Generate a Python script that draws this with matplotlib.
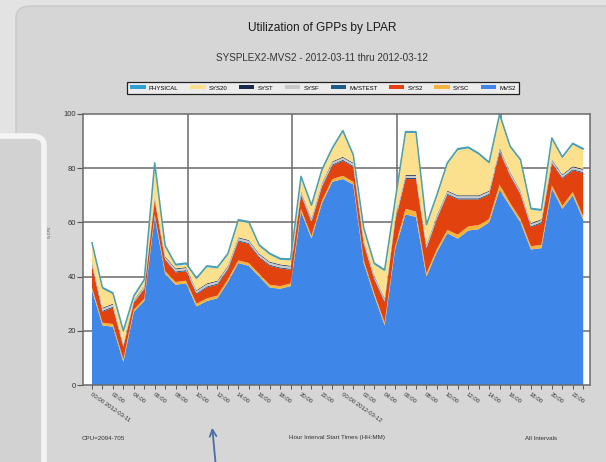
import numpy as np
import matplotlib.pyplot as plt
from matplotlib.patches import FancyBboxPatch, Patch

plt.rcParams['font.family'] = ['Liberation Sans', 'DejaVu Sans']

# hourly samples, 2012-03-11 00:00 .. 2012-03-12 23:00
hours = list(range(48))
tick_labels = ['00:00 2012-03-11', '02:00', '04:00', '06:00', '08:00', '10:00',
               '12:00', '14:00', '16:00', '18:00', '20:00', '22:00',
               '00:00 2012-03-12', '02:00', '04:00', '06:00', '08:00', '10:00',
               '12:00', '14:00', '16:00', '18:00', '20:00', '22:00']

# utilisation per LPAR (stack order bottom -> top)
mvs2 = [35, 22, 21.5, 8.5, 27, 31, 62, 41, 37, 37.5, 29, 31,
        32, 38, 45, 44, 40, 36, 35.5, 36.5, 64, 54, 67, 75,
        76, 74, 45, 33, 22, 50, 63, 62, 40, 49, 56, 54,
        57, 57.5, 60, 72, 66, 60, 50, 50.5, 72.5, 65, 70, 61]
sysc = [1, 1, 1, 1, 0.8, 0.8, 1, 1, 1, 1, 1, 1,
        1, 1, 1, 1, 1, 1, 1, 1, 1, 1, 1, 1,
        1.2, 1, 1, 1, 1, 1, 2, 2, 1.2, 1.2, 1.2, 1.5,
        1.5, 1.5, 1.2, 2, 1.2, 1.2, 1.2, 1.2, 1.2, 1.2, 1.2, 1.2]
sys2 = [8, 4, 6, 4.5, 2.5, 3.5, 5, 4, 3.5, 3.5, 3.5, 4,
        4, 3.5, 7, 7, 6, 7, 6.5, 5, 5, 5, 5, 5,
        5.5, 5.5, 6, 5, 7.5, 9, 11, 12, 9, 11, 13, 13,
        10, 9.5, 9, 12, 10, 9, 7, 8, 8, 10, 8, 16]
mvstest = [0.4, 0.4, 0.4, 0.3, 0.3, 0.3, 0.4, 0.4, 0.4, 0.4, 0.4, 0.4,
           0.4, 0.4, 0.4, 0.4, 0.4, 0.4, 0.4, 0.4, 0.4, 0.4, 0.4, 0.4,
           0.4, 0.4, 0.4, 0.4, 0.4, 0.4, 0.4, 0.4, 0.4, 0.4, 0.4, 0.4,
           0.4, 0.4, 0.4, 0.4, 0.4, 0.4, 0.4, 0.4, 0.4, 0.4, 0.4, 0.4]
sysf = [0.8, 0.8, 0.8, 0.6, 0.6, 0.6, 0.8, 0.8, 0.8, 0.8, 0.8, 0.8,
        0.8, 0.8, 0.8, 0.8, 0.8, 0.8, 0.8, 0.8, 0.8, 0.8, 0.8, 0.8,
        0.8, 0.8, 0.8, 0.8, 0.8, 0.8, 0.8, 0.8, 0.8, 0.8, 0.8, 0.8,
        0.8, 0.8, 0.8, 0.8, 0.8, 0.8, 0.8, 0.8, 0.8, 0.8, 0.8, 0.8]
syst = [0.3, 0.3, 0.3, 0.2, 0.2, 0.2, 0.3, 0.3, 0.3, 0.3, 0.3, 0.3,
        0.3, 0.3, 0.3, 0.3, 0.3, 0.3, 0.3, 0.3, 0.3, 0.3, 0.3, 0.3,
        0.3, 0.3, 0.3, 0.3, 0.3, 0.3, 0.3, 0.3, 0.3, 0.3, 0.3, 0.3,
        0.3, 0.3, 0.3, 0.3, 0.3, 0.3, 0.3, 0.3, 0.3, 0.3, 0.3, 0.3]
sys20 = [6.5, 7, 3.5, 4.5, 1, 2, 12, 3.5, 1, 1, 4, 6,
         4.5, 4, 6, 6.3, 2.7, 2.6, 1.7, 2, 5, 4.4, 4.5, 4.5,
         9.2, 2.5, 4, 4, 10, 6, 15.5, 15.5, 7, 7, 9.8, 16.7,
         17.3, 15, 10, 12, 9, 11, 5, 3, 7.5, 6, 8, 7]
physical = [0.5, 0.5, 0.5, 0.5, 0.5, 0.5, 0.5, 0.5, 0.5, 0.5, 0.5, 0.5,
            0.5, 0.5, 0.5, 0.5, 0.5, 0.5, 0.5, 0.5, 0.5, 0.5, 0.5, 0.5,
            0.5, 0.5, 0.5, 0.5, 0.5, 0.5, 0.5, 0.5, 0.5, 0.5, 0.5, 0.5,
            0.5, 0.5, 0.5, 0.5, 0.5, 0.5, 0.5, 0.5, 0.5, 0.5, 0.5, 0.5]

layers = [mvs2, sysc, sys2, mvstest, sysf, syst, sys20, physical]
names = ['MVS2', 'SYSC', 'SYS2', 'MVSTEST', 'SYSF', 'SYST', 'SYS20', 'PHYSICAL']
colors = ['#3e86e8', '#f4b43c', '#e1420e', '#1e5b8c', '#c9c9c9', '#1a2a4e',
          '#fbe08e', '#2c9fd6']

W, H = 606, 462
def fx(x):
    return x / W
def fy(y):
    return 1 - y / H

fig = plt.figure(figsize=(W / 100, H / 100), dpi=100)
fig.patch.set_facecolor('#e3e3e3')

# report panel + left side box (kept behind the axes)
fig.patches.append(FancyBboxPatch((fx(16), fy(475)), fx(640) - fx(16), fy(6) - fy(475),
                                  boxstyle='round,pad=0,rounding_size=0.025',
                                  transform=fig.transFigure, facecolor='#d6d6d6',
                                  edgecolor='#c9c9c9', lw=1, zorder=-3))
fig.patches.append(FancyBboxPatch((fx(-30), fy(480)), fx(44) - fx(-30), fy(136) - fy(480),
                                  boxstyle='round,pad=0,rounding_size=0.02',
                                  transform=fig.transFigure, facecolor='#d2d2d2',
                                  edgecolor='#f4f4f4', lw=4, zorder=-2))

ax = fig.add_axes([fx(83), fy(385), fx(590) - fx(83), fy(114) - fy(385)])
ax.set_facecolor('white')
ax.stackplot(hours, *layers, colors=colors, linewidth=0)
ax.plot(hours, np.sum(layers, axis=0), color='#4f9fae', lw=1.1)

ax.set_xlim(-0.86, 47.65)
ax.set_ylim(0, 100)
for xv in [9.14, 19.14, 29.14, 39.14]:
    ax.axvline(xv, color='#6a6a6a', lw=1.1, zorder=0.5)
for yv in [20, 40, 60, 80]:
    ax.axhline(yv, color='#6a6a6a', lw=1.1, zorder=0.5)

ax.set_yticks([0, 20, 40, 60, 80, 100])
ax.tick_params(axis='y', labelsize=5.5, length=4, width=0.8, color='#555555',
               labelcolor='#333333', pad=1)
ax.set_xticks(hours[::2])
ax.set_xticklabels(tick_labels, rotation=-35, ha='left', va='top',
                   rotation_mode='anchor', fontsize=4.3, color='#333333')
ax.set_xticks(hours, minor=True)
ax.tick_params(axis='x', which='both', length=3, width=0.7, color='#555555', pad=2)
for s in ax.spines.values():
    s.set_color('#6a6a6a')
    s.set_linewidth(1.1)

fig.text(fx(322), fy(28), 'Utilization of GPPs by LPAR', ha='center', va='center',
         fontsize=8.6, color='#1a1a1a')
fig.text(fx(322), fy(58), 'SYSPLEX2-MVS2 - 2012-03-11 thru 2012-03-12', ha='center',
         va='center', fontsize=7.1, color='#333333')

handles = [Patch(facecolor=c, edgecolor='none') for c in colors[::-1]]
leg = fig.legend(handles, names[::-1], loc='center', bbox_to_anchor=(fx(323), fy(88)),
                 ncol=8, fontsize=4.3, handlelength=2.6, handleheight=0.6,
                 handletextpad=0.5, columnspacing=1.95, borderpad=0.6,
                 fancybox=False, facecolor='#ececec', edgecolor='#222222',
                 framealpha=1)
leg.get_frame().set_linewidth(0.9)

fig.text(fx(50), fy(232), '% CPU', rotation=90, ha='center', va='center',
         fontsize=2.5, color='#444444')
fig.text(fx(82), fy(438), 'CPU=2094-705', ha='left', va='center', fontsize=4.5,
         color='#333333')
fig.text(fx(337), fy(438), 'Hour Interval Start Times (HH:MM)', ha='center',
         va='center', fontsize=4.5, color='#333333')
fig.text(fx(541), fy(438), 'All Intervals', ha='center', va='center', fontsize=4.5,
         color='#333333')

ax.annotate('', xy=(fx(212), fy(425)), xytext=(fx(216), fy(468)),
            xycoords='figure fraction', textcoords='figure fraction',
            annotation_clip=False,
            arrowprops=dict(arrowstyle='->', color='#4b6ea6', lw=1.3,
                            mutation_scale=12))

fig.savefig('out.png', dpi=100, facecolor=fig.get_facecolor())
